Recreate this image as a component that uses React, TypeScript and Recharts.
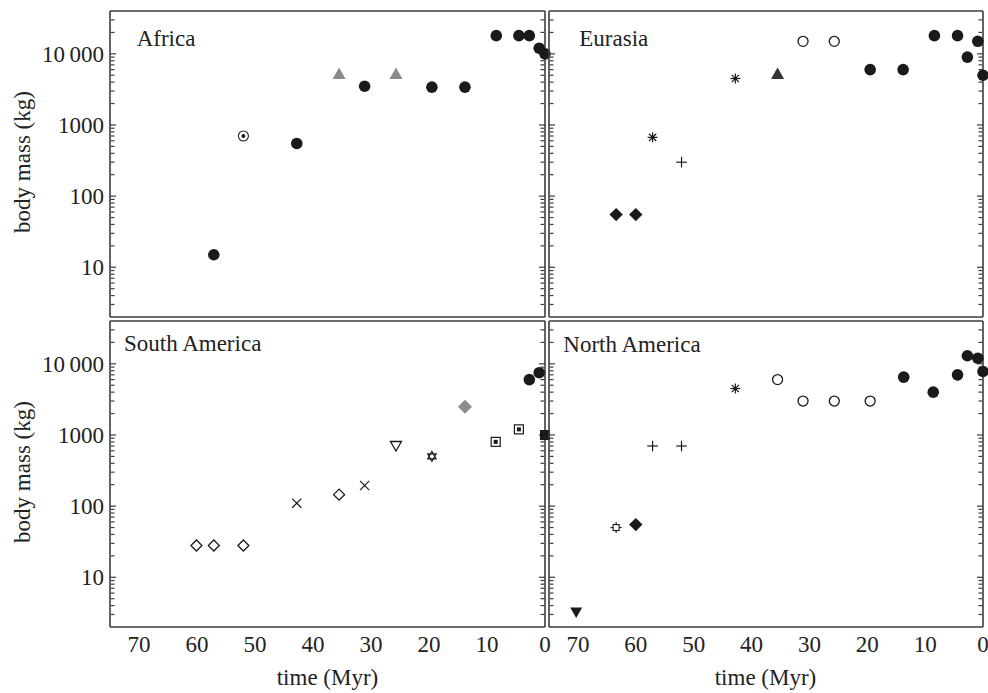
import { ScatterChart, Scatter, XAxis, YAxis } from 'recharts';

const FONT = '"Liberation Serif", "Times New Roman", Times, serif';
const INK = '#1a1a1a';
const TEXT = '#222';
const FRAME = '#3c3c3c';

// time axis in Myr before present, drawn 75 -> 0
const timeMajor = [0, 10, 20, 30, 40, 50, 60, 70];
const timeMinor = [5, 15, 25, 35, 45, 55, 65];
// body mass axis (kg), log scale
const massMajor = [10, 100, 1000, 10000];
const massMinor = [3, 4, 5, 6, 7, 8, 9, 20, 30, 40, 50, 60, 70, 80, 90, 200, 300, 400, 500, 600, 700, 800, 900,
  2000, 3000, 4000, 5000, 6000, 7000, 8000, 9000, 20000, 30000];

// Africa
const afDots = [
  { t: 57.1, mass: 15 }, { t: 42.8, mass: 550 }, { t: 31.1, mass: 3500 }, { t: 19.5, mass: 3400 },
  { t: 13.8, mass: 3400 }, { t: 8.4, mass: 18000 }, { t: 4.5, mass: 18000 }, { t: 2.7, mass: 18000 },
  { t: 1.0, mass: 12000 }, { t: 0, mass: 10000 },
];
const afTarget = [{ t: 52.0, mass: 700 }];
const afGrayTri = [{ t: 35.5, mass: 5200 }, { t: 25.7, mass: 5200 }];

// Eurasia
const euDiamond = [{ t: 63.4, mass: 55 }, { t: 60.0, mass: 55 }];
const euAsterisk = [{ t: 57.1, mass: 670 }, { t: 42.8, mass: 4500 }];
const euPlus = [{ t: 52.1, mass: 300 }];
const euTri = [{ t: 35.5, mass: 5200 }];
const euRing = [{ t: 31.1, mass: 15000 }, { t: 25.7, mass: 15000 }];
const euDots = [
  { t: 19.5, mass: 6000 }, { t: 13.8, mass: 6000 }, { t: 8.4, mass: 18000 }, { t: 4.4, mass: 18000 },
  { t: 2.7, mass: 9000 }, { t: 0.9, mass: 15000 }, { t: 0, mass: 5000 },
];

// South America
const saOpenDiamond = [{ t: 60.1, mass: 28 }, { t: 57.1, mass: 28 }, { t: 52.0, mass: 28 }, { t: 35.5, mass: 145 }];
const saCross = [{ t: 42.8, mass: 110 }, { t: 31.1, mass: 195 }];
const saTriDown = [{ t: 25.7, mass: 700 }];
const saStar = [{ t: 19.5, mass: 500 }];
const saGrayDiamond = [{ t: 13.8, mass: 2500 }];
const saBoxDot = [{ t: 8.5, mass: 800 }, { t: 4.5, mass: 1200 }];
const saSquare = [{ t: 0, mass: 1000 }];
const saDots = [{ t: 2.7, mass: 6000 }, { t: 1.0, mass: 7500 }];

// North America
const naTriDown = [{ t: 70.3, mass: 3.2 }];
const naBoxPlus = [{ t: 63.4, mass: 50 }];
const naDiamond = [{ t: 60.0, mass: 55 }];
const naPlus = [{ t: 57.1, mass: 700 }, { t: 52.1, mass: 700 }];
const naAsterisk = [{ t: 42.8, mass: 4500 }];
const naRing = [{ t: 35.5, mass: 6000 }, { t: 31.1, mass: 3000 }, { t: 25.7, mass: 3000 }, { t: 19.5, mass: 3000 }];
const naDots = [
  { t: 13.7, mass: 6500 }, { t: 8.6, mass: 4000 }, { t: 4.4, mass: 7000 }, { t: 2.7, mass: 13000 },
  { t: 0.9, mass: 12000 }, { t: 0, mass: 7800 },
];

function Marker({ kind, cx, cy }) {
  if (cx == null || cy == null) return null;
  const s = { stroke: INK, strokeWidth: 1.3, fill: '#fff' };
  switch (kind) {
    case 'dot':
      return <circle cx={cx} cy={cy} r={5.8} fill={INK} />;
    case 'ring':
      return <circle cx={cx} cy={cy} r={5} {...s} />;
    case 'target':
      return (
        <g>
          <circle cx={cx} cy={cy} r={5} {...s} strokeWidth={1.1} />
          <circle cx={cx} cy={cy} r={2} fill={INK} />
        </g>
      );
    case 'triGray':
    case 'triDark':
      return (
        <polygon
          points={`${cx},${cy - 6.5} ${cx + 6.5},${cy + 5} ${cx - 6.5},${cy + 5}`}
          fill={kind === 'triGray' ? '#8a8a8a' : '#333'}
        />
      );
    case 'diamond':
      return <polygon points={`${cx},${cy - 6.7} ${cx + 6.7},${cy} ${cx},${cy + 6.7} ${cx - 6.7},${cy}`} fill={INK} />;
    case 'diamondGray':
      return <polygon points={`${cx},${cy - 7} ${cx + 7},${cy} ${cx},${cy + 7} ${cx - 7},${cy}`} fill="#8c8c8c" />;
    case 'diamondOpen':
      return <polygon points={`${cx},${cy - 5.5} ${cx + 5.5},${cy} ${cx},${cy + 5.5} ${cx - 5.5},${cy}`} {...s} />;
    case 'asterisk':
      return (
        <g stroke={INK} strokeWidth={1.2}>
          <line x1={cx - 5} y1={cy} x2={cx + 5} y2={cy} />
          <line x1={cx} y1={cy - 5} x2={cx} y2={cy + 5} />
          <line x1={cx - 3.6} y1={cy - 3.6} x2={cx + 3.6} y2={cy + 3.6} />
          <line x1={cx - 3.6} y1={cy + 3.6} x2={cx + 3.6} y2={cy - 3.6} />
          <circle cx={cx} cy={cy} r={1.8} fill={INK} stroke="none" />
        </g>
      );
    case 'plus':
      return (
        <g stroke={INK} strokeWidth={1.2}>
          <line x1={cx - 5.3} y1={cy} x2={cx + 5.3} y2={cy} />
          <line x1={cx} y1={cy - 5.3} x2={cx} y2={cy + 5.3} />
        </g>
      );
    case 'cross':
      return (
        <g stroke={INK} strokeWidth={1.2}>
          <line x1={cx - 4.6} y1={cy - 4.6} x2={cx + 4.6} y2={cy + 4.6} />
          <line x1={cx - 4.6} y1={cy + 4.6} x2={cx + 4.6} y2={cy - 4.6} />
        </g>
      );
    case 'triDownOpen':
      return <polygon points={`${cx - 5.5},${cy - 4.5} ${cx + 5.5},${cy - 4.5} ${cx},${cy + 5}`} {...s} />;
    case 'triDown':
      return <polygon points={`${cx - 6},${cy - 5} ${cx + 6},${cy - 5} ${cx},${cy + 5.5}`} fill={INK} />;
    case 'star':
      return (
        <g {...s} strokeWidth={1.1} fill="none">
          <polygon points={`${cx},${cy - 5} ${cx + 4.3},${cy + 2.5} ${cx - 4.3},${cy + 2.5}`} />
          <polygon points={`${cx},${cy + 5} ${cx + 4.3},${cy - 2.5} ${cx - 4.3},${cy - 2.5}`} />
        </g>
      );
    case 'boxDot':
      return (
        <g>
          <rect x={cx - 4.5} y={cy - 4.5} width={9} height={9} {...s} strokeWidth={1.2} />
          <rect x={cx - 2} y={cy - 2} width={4} height={4} fill={INK} />
        </g>
      );
    case 'square':
      return <rect x={cx - 5} y={cy - 5} width={10} height={10} fill={INK} />;
    case 'boxPlus':
      return (
        <g stroke={INK} strokeWidth={1.1}>
          <line x1={cx - 5.5} y1={cy} x2={cx + 5.5} y2={cy} />
          <line x1={cx} y1={cy - 5.5} x2={cx} y2={cy + 5.5} />
          <rect x={cx - 3} y={cy - 3} width={6} height={6} fill="#fff" />
        </g>
      );
    default:
      return null;
  }
}

const fmtMass = (v) => (v === 10000 ? '10\u2009000' : String(v));
const noLabel = () => <g />;

function Panel({ left, top, width, height, margin, showX, showY, groups }) {
  const tickLine = { stroke: FRAME, strokeWidth: 1.2 };
  const frame = { stroke: FRAME, strokeWidth: 1.6 };
  const tickFont = { fontSize: 23, fill: TEXT, fontFamily: FONT };
  const xCommon = { type: 'number', domain: [0, 75], reversed: true, allowDataOverflow: true, interval: 0, tick: noLabel };
  const yCommon = { type: 'number', scale: 'log', domain: [2, 40000], allowDataOverflow: true, interval: 0, tick: noLabel };
  return (
    <div style={{ position: 'absolute', left, top }}>
      <ScatterChart width={width} height={height} margin={margin}>
        <XAxis
          xAxisId="x" type="number" dataKey="t" domain={[0, 75]} reversed ticks={timeMajor} interval={0}
          hide={!showX} height={66} axisLine={false} tickLine={false} tickSize={9} tickMargin={0} tick={tickFont}
        />
        <YAxis
          yAxisId="y" type="number" dataKey="mass" scale="log" domain={[2, 40000]} ticks={massMajor} interval={0}
          hide={!showY} width={110} axisLine={false} tickLine={false} tickSize={6} tickMargin={0} tick={tickFont}
          tickFormatter={fmtMass}
        />
        <XAxis xAxisId="xb" {...xCommon} orientation="bottom" mirror height={1} ticks={timeMajor} tickSize={6} tickLine={tickLine} axisLine={frame} />
        <XAxis xAxisId="xbm" {...xCommon} orientation="bottom" mirror height={1} ticks={timeMinor} tickSize={3.5} tickLine={tickLine} axisLine={false} />
        <XAxis xAxisId="xt" {...xCommon} orientation="top" mirror height={1} ticks={timeMajor} tickSize={6} tickLine={tickLine} axisLine={frame} />
        <XAxis xAxisId="xtm" {...xCommon} orientation="top" mirror height={1} ticks={timeMinor} tickSize={3.5} tickLine={tickLine} axisLine={false} />
        <YAxis yAxisId="yl" {...yCommon} orientation="left" mirror width={1} ticks={massMajor} tickSize={6} tickLine={tickLine} axisLine={frame} />
        <YAxis yAxisId="ylm" {...yCommon} orientation="left" mirror width={1} ticks={massMinor} tickSize={3.5} tickLine={tickLine} axisLine={false} />
        <YAxis yAxisId="yr" {...yCommon} orientation="right" mirror width={1} ticks={massMajor} tickSize={6} tickLine={tickLine} axisLine={frame} />
        <YAxis yAxisId="yrm" {...yCommon} orientation="right" mirror width={1} ticks={massMinor} tickSize={3.5} tickLine={tickLine} axisLine={false} />
        {groups.map((g, i) => (
          <Scatter
            key={i}
            xAxisId="x"
            yAxisId="y"
            data={g.data}
            isAnimationActive={false}
            shape={(p) => <Marker kind={g.kind} cx={p.cx} cy={p.cy} />}
          />
        ))}
      </ScatterChart>
    </div>
  );
}

export default function App() {
  const titleStyle = { fontSize: 23, fill: TEXT, fontFamily: FONT };
  return (
    <div style={{ position: 'absolute', left: 0, top: 0, width: 988, height: 693, background: '#fff', fontFamily: FONT }}>
      <Panel
        left={0} top={0} width={556} height={318} margin={{ top: 11, right: 11, bottom: 1, left: 0 }}
        showX={false} showY
        groups={[
          { kind: 'triGray', data: afGrayTri },
          { kind: 'target', data: afTarget },
          { kind: 'dot', data: afDots },
        ]}
      />
      <Panel
        left={0} top={319} width={556} height={374} margin={{ top: 2, right: 11, bottom: 0, left: 0 }}
        showX showY
        groups={[
          { kind: 'diamondOpen', data: saOpenDiamond },
          { kind: 'cross', data: saCross },
          { kind: 'triDownOpen', data: saTriDown },
          { kind: 'star', data: saStar },
          { kind: 'diamondGray', data: saGrayDiamond },
          { kind: 'boxDot', data: saBoxDot },
          { kind: 'square', data: saSquare },
          { kind: 'dot', data: saDots },
        ]}
      />
      <Panel
        left={547} top={0} width={441} height={318} margin={{ top: 11, right: 5, bottom: 1, left: 2 }}
        showX={false} showY={false}
        groups={[
          { kind: 'diamond', data: euDiamond },
          { kind: 'asterisk', data: euAsterisk },
          { kind: 'plus', data: euPlus },
          { kind: 'triDark', data: euTri },
          { kind: 'ring', data: euRing },
          { kind: 'dot', data: euDots },
        ]}
      />
      <Panel
        left={547} top={319} width={441} height={374} margin={{ top: 2, right: 5, bottom: 0, left: 2 }}
        showX showY={false}
        groups={[
          { kind: 'triDown', data: naTriDown },
          { kind: 'boxPlus', data: naBoxPlus },
          { kind: 'diamond', data: naDiamond },
          { kind: 'plus', data: naPlus },
          { kind: 'asterisk', data: naAsterisk },
          { kind: 'ring', data: naRing },
          { kind: 'dot', data: naDots },
        ]}
      />
      <svg width={988} height={693} style={{ position: 'absolute', left: 0, top: 0, pointerEvents: 'none' }}>
        <text x={136.7} y={46} {...titleStyle}>Africa</text>
        <text x={579.3} y={46} {...titleStyle}>Eurasia</text>
        <text x={124} y={351} {...titleStyle}>South America</text>
        <text x={563.3} y={352} {...titleStyle}>North America</text>
        <text transform="translate(30,162) rotate(-90)" textAnchor="middle" {...titleStyle}>body mass (kg)</text>
        <text transform="translate(30,472) rotate(-90)" textAnchor="middle" {...titleStyle}>body mass (kg)</text>
        <text x={327.5} y={685} textAnchor="middle" {...titleStyle}>time (Myr)</text>
        <text x={765.5} y={685} textAnchor="middle" {...titleStyle}>time (Myr)</text>
      </svg>
    </div>
  );
}
